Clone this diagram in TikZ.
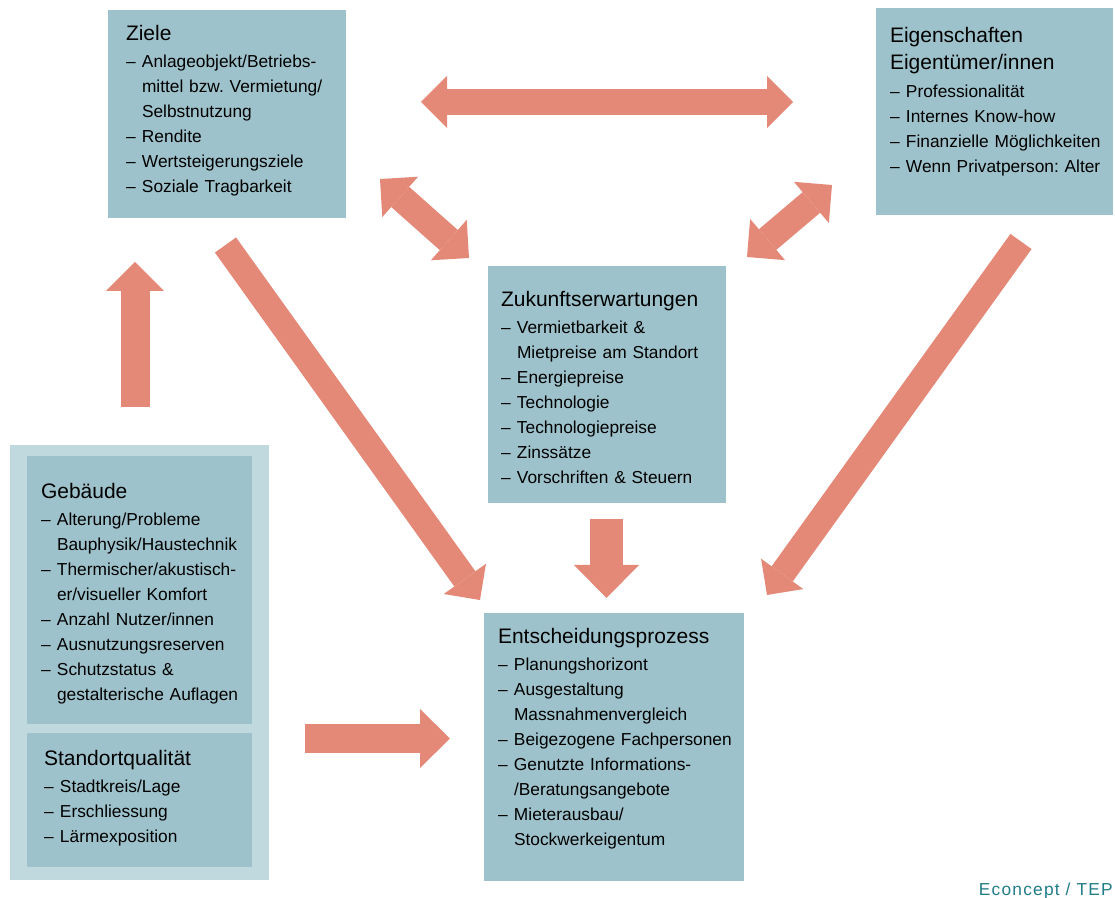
\documentclass[tikz,border=0pt]{standalone}
\usepackage{fontspec}
\setmainfont{Liberation Sans}
\newfontfamily\creditfont[LetterSpace=7]{Liberation Sans}
\usetikzlibrary{arrows.meta}
\usetikzlibrary{calc}
\usetikzlibrary{fit}

\definecolor{boxblue}{RGB}{157,194,203}
\definecolor{outerblue}{RGB}{191,217,222}
\definecolor{arrowred}{RGB}{228,137,120}
\definecolor{creditteal}{RGB}{32,124,134}

\frenchspacing
\newcommand{\titlefont}{\fontsize{15.75pt}{20.7pt}\selectfont}
\newcommand{\itemfont}{\fontsize{13pt}{18.75pt}\selectfont}
\newcommand{\boxtitle}[1]{{\noindent\titlefont #1\par}\vspace{2pt}}
\newcommand{\listitem}[1]{\par\hangindent=12pt\hangafter=1\noindent\makebox[12pt][l]{–}#1\par}

\tikzset{
	infobox/.style={fill=boxblue, inner sep=0pt},
	outerbox/.style={fill=outerblue, inner sep=0pt},
	txt/.style={anchor=north west, inner sep=0pt, text width=200pt, align=left, font=\itemfont},
	fatarrow/.style n args={3}{draw=arrowred, line width=#1, -{Triangle[length=#3, width=#2, line width=0pt]}},
	fatboth/.style n args={3}{draw=arrowred, line width=#1, {Triangle[length=#3, width=#2, line width=0pt]}-{Triangle[length=#3, width=#2, line width=0pt]}},
}

\begin{document}
\begin{tikzpicture}[x=0.75pt, y=-0.75pt]
	\useasboundingbox (0,0) rectangle (1115,898);
	
	% boxes
	\node[infobox, fit={(108,10) (346,218)}] (ziele) {};
	\node[txt] (ziele-text) at ([shift={(18,15)}]ziele.north west) {\boxtitle{Ziele}%
		\listitem{Anlageobjekt/Betriebs-\newline mittel bzw. Vermietung/\newline Selbstnutzung}%
		\listitem{Rendite}%
		\listitem{Wertsteigerungsziele}%
		\listitem{Soziale Tragbarkeit}};
	
	\node[infobox, fit={(876,8) (1113,215)}] (eigen) {};
	\node[txt] (eigen-text) at ([shift={(14,19)}]eigen.north west) {\boxtitle{Eigenschaften\newline Eigentümer/innen}%
		\listitem{Professionalität}%
		\listitem{Internes Know-how}%
		\listitem{Finanzielle Möglichkeiten}%
		\listitem{Wenn Privatperson: Alter}};
	
	\node[infobox, fit={(488,266) (726,503)}] (zukunft) {};
	\node[txt] (zukunft-text) at ([shift={(13,25)}]zukunft.north west) {\boxtitle{Zukunftserwartungen}%
		\listitem{Vermietbarkeit \&\newline Mietpreise am Standort}%
		\listitem{Energiepreise}%
		\listitem{Technologie}%
		\listitem{Technologiepreise}%
		\listitem{Zinssätze}%
		\listitem{Vorschriften \& Steuern}};
	
	\node[outerbox, fit={(10,445) (269,880)}] (objekt) {};
	\node[infobox, fit={(27,456) (252,724)}] (gebaeude) {};
	\node[txt] (gebaeude-text) at ([shift={(14,27)}]gebaeude.north west) {\boxtitle{Gebäude}%
		\listitem{Alterung/Probleme\newline Bauphysik/Haustechnik}%
		\listitem{Thermischer/akustisch-\newline er/visueller Komfort}%
		\listitem{Anzahl Nutzer/innen}%
		\listitem{Ausnutzungsreserven}%
		\listitem{Schutzstatus \&\newline gestalterische Auflagen}};
	
	\node[infobox, fit={(27,733) (252,867)}] (standort) {};
	\node[txt] (standort-text) at ([shift={(17,17)}]standort.north west) {\boxtitle{Standortqualität}%
		\listitem{Stadtkreis/Lage}%
		\listitem{Erschliessung}%
		\listitem{Lärmexposition}};
	
	\node[infobox, fit={(484,613) (744,881)}] (entscheid) {};
	\node[txt] (entscheid-text) at ([shift={(14,15)}]entscheid.north west) {\boxtitle{Entscheidungsprozess}%
		\listitem{Planungshorizont}%
		\listitem{Ausgestaltung\newline Massnahmenvergleich}%
		\listitem{Beigezogene Fachpersonen}%
		\listitem{Genutzte Informations-\newline /Beratungsangebote}%
		\listitem{Mieterausbau/\newline Stockwerkeigentum}};
	
	% arrow ends
	\coordinate (ziele-eigen-l) at (421,102);
	\coordinate (ziele-eigen-r) at (793,102);
	\coordinate (ziele-zuk-a) at (380,179);
	\coordinate (ziele-zuk-b) at (469,258);
	\coordinate (eigen-zuk-a) at (832,185);
	\coordinate (eigen-zuk-b) at (747,257);
	\coordinate (objekt-up-a) at (135,407);
	\coordinate (objekt-up-b) at (135,262);
	\coordinate (ziele-ent-a) at (225.5,245);
	\coordinate (ziele-ent-b) at (480,600);
	\coordinate (eigen-ent-a) at (1021,241.5);
	\coordinate (eigen-ent-b) at (767,595);
	\coordinate (zuk-ent-a) at (606.5,519);
	\coordinate (zuk-ent-b) at (606.5,598);
	\coordinate (objekt-ent-a) at (305,738.5);
	\coordinate (objekt-ent-b) at (450,738.5);
	
	\draw[fatboth={19.5pt}{39pt}{19.5pt}] (ziele-eigen-l) -- (ziele-eigen-r);
	\draw[fatboth={20.25pt}{40.5pt}{20.25pt}] (ziele-zuk-a) -- (ziele-zuk-b);
	\draw[fatboth={20.25pt}{40.5pt}{20.25pt}] (eigen-zuk-a) -- (eigen-zuk-b);
	\draw[fatarrow={21.75pt}{43.5pt}{21.75pt}] (objekt-up-a) -- (objekt-up-b);
	\draw[fatarrow={19.5pt}{39pt}{19.5pt}] (ziele-ent-a) -- (ziele-ent-b);
	\draw[fatarrow={19.5pt}{39pt}{19.5pt}] (eigen-ent-a) -- (eigen-ent-b);
	\draw[fatarrow={24.75pt}{48.75pt}{24.75pt}] (zuk-ent-a) -- (zuk-ent-b);
	\draw[fatarrow={21.75pt}{44.25pt}{22.5pt}] (objekt-ent-a) -- (objekt-ent-b);
	
	\node[anchor=base east, inner sep=0pt, text=creditteal, font=\creditfont\fontsize{13pt}{15pt}\selectfont] (credit) at (1113,895) {Econcept / TEP};
\end{tikzpicture}
\end{document}
